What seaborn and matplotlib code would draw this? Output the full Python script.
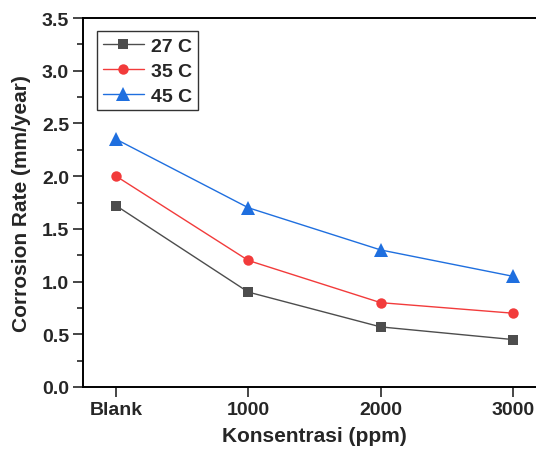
import matplotlib
matplotlib.use("Agg")
import matplotlib.pyplot as plt
import numpy as np
import pandas as pd
import seaborn as sns
from matplotlib.ticker import MultipleLocator

# data
konsentrasi = ["Blank", "1000", "2000", "3000"]
rate_27 = [1.72, 0.90, 0.57, 0.45]
rate_35 = [2.00, 1.20, 0.80, 0.70]
rate_45 = [2.35, 1.70, 1.30, 1.05]
series = ["27 C", "35 C", "45 C"]

colors = {"27 C": "#4d4d4d", "35 C": "#f23b3b", "45 C": "#1f6fdf"}
markers = {"27 C": "s", "35 C": "o", "45 C": "^"}

pos = np.arange(len(konsentrasi))
df = pd.DataFrame({
    "x": np.tile(pos, 3),
    "rate": rate_27 + rate_35 + rate_45,
    "series": np.repeat(series, len(konsentrasi)),
})

sns.set_style("ticks")
plt.rcParams["font.family"] = ["Liberation Sans", "DejaVu Sans"]
plt.rcParams["font.weight"] = "bold"

fig = plt.figure(figsize=(5.36, 4.52), dpi=100)
ax = fig.add_axes([83 / 536, 1 - 388 / 452, (546 - 83) / 536, (388 - 19) / 452])

sns.lineplot(data=df, x="x", y="rate", hue="series", style="series",
             palette=colors, markers=markers, dashes=False, markersize=7.5,
             markeredgewidth=0, linewidth=1, ax=ax)
# triangles look a bit bigger in the original
for ln in ax.lines:
    if ln.get_marker() == "^":
        ln.set_markersize(9.5)

ax.set_xlim(-0.25, 3.25)
ax.set_ylim(0, 3.5)
ax.set_xticks(pos)
ax.set_xticklabels(konsentrasi)
ax.yaxis.set_major_locator(MultipleLocator(0.5))
ax.yaxis.set_minor_locator(MultipleLocator(0.25))
ax.yaxis.set_major_formatter(matplotlib.ticker.FormatStrFormatter("%.1f"))
ax.tick_params(axis="both", which="major", direction="out", length=7, width=1.2,
               labelsize=14, pad=3)
ax.tick_params(axis="y", which="minor", direction="out", length=4, width=1.2)
for lbl in ax.get_xticklabels() + ax.get_yticklabels():
    lbl.set_fontweight("bold")

ax.spines["right"].set_visible(False)
for s in ["left", "bottom", "top"]:
    ax.spines[s].set_linewidth(1.4)
    ax.spines[s].set_color("black")

ax.set_xlabel("Konsentrasi (ppm)", fontsize=15, fontweight="bold", labelpad=6)
ax.set_ylabel("Corrosion Rate (mm/year)", fontsize=15, fontweight="bold", labelpad=8)

leg = ax.legend(loc="upper left", bbox_to_anchor=(0.022, 0.975), fontsize=14,
                frameon=True, fancybox=False, edgecolor="black", handlelength=2.1,
                borderpad=0.3, labelspacing=0.38, handletextpad=0.35,
                borderaxespad=0.2)
leg.get_frame().set_linewidth(1.0)
for t in leg.get_texts():
    t.set_fontweight("bold")

fig.savefig("out.png", dpi=100)
